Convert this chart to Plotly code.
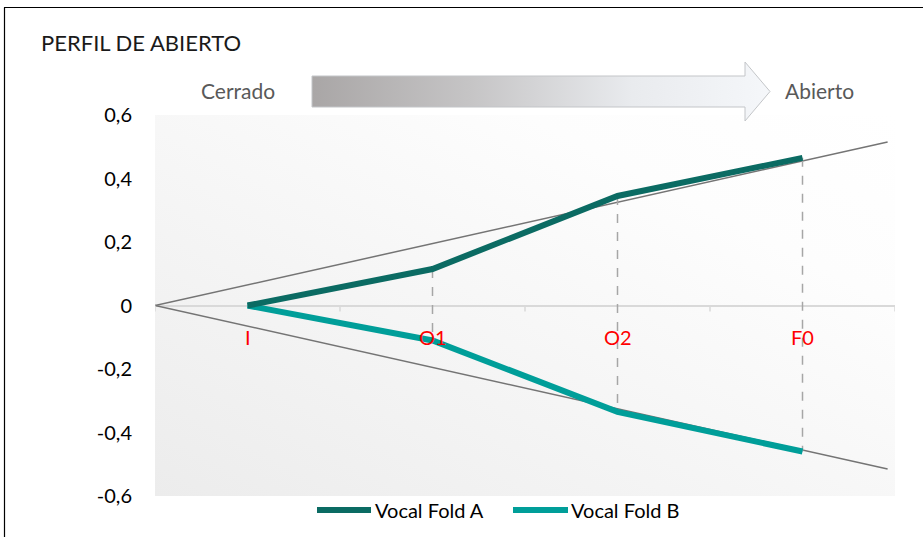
import base64
import plotly.graph_objects as go

# ---- data ----
categories = ["I", "O1", "O2", "F0"]
cat_pos = [1, 2, 3, 4]
fold_a = [0, 0.115, 0.345, 0.465]
fold_b = [0, -0.11, -0.335, -0.46]
trend_x = [0.5, 4.46]
trend_upper = [0, 0.515]
trend_lower = [0, -0.515]
y_ticks = [0.6, 0.4, 0.2, 0, -0.2, -0.4, -0.6]
y_tick_labels = ["0,6", "0,4", "0,2", "0", "-0,2", "-0,4", "-0,6"]
boundaries = [0.5, 1.5, 2.5, 3.5, 4.5]

W, H = 923, 537
L, R, T, B = 155, 28, 115, 41
PW, PH = W - L - R, H - T - B
FONT = "Lato, Carlito, sans-serif"


def px_x(p):
    return (p - L) / PW


def px_y(p):
    return (H - B - p) / PH


def svg_uri(svg):
    return "data:image/svg+xml;base64," + base64.b64encode(svg.encode()).decode()


bg_svg = (
    '<svg xmlns="http://www.w3.org/2000/svg" width="740" height="381" viewBox="0 0 740 381" preserveAspectRatio="none">'
    '<defs><linearGradient id="g" x1="0" y1="1" x2="1" y2="0">'
    '<stop offset="0" stop-color="#ececec"/><stop offset="0.75" stop-color="#fdfdfd"/><stop offset="1" stop-color="#ffffff"/>'
    '</linearGradient></defs><rect width="740" height="381" fill="url(#g)"/></svg>'
)

arrow_svg = (
    '<svg xmlns="http://www.w3.org/2000/svg" width="460" height="61" viewBox="0 0 460 61" preserveAspectRatio="none">'
    '<defs><linearGradient id="a" x1="0" y1="0" x2="1" y2="0">'
    '<stop offset="0" stop-color="#a9a6a6"/><stop offset="0.35" stop-color="#c6c5c6"/>'
    '<stop offset="0.7" stop-color="#e9ebee"/><stop offset="1" stop-color="#f5f7fa"/>'
    '</linearGradient></defs>'
    '<polygon points="1,15 434,15 434,1 459,30.5 434,60 434,46 1,46" fill="url(#a)" stroke="#c3c5c8" stroke-width="1"/>'
    '</svg>'
)

fig = go.Figure()

# trend lines
for ty in (trend_upper, trend_lower):
    fig.add_trace(go.Scatter(x=trend_x, y=ty, mode="lines",
                             line=dict(color="#747474", width=1.5),
                             hoverinfo="skip", showlegend=False))

# drop lines between series
dx, dy = [], []
for c, a, b in zip(cat_pos, fold_a, fold_b):
    if a != b:
        dx += [c, c, None]
        dy += [a, b, None]
fig.add_trace(go.Scatter(x=dx, y=dy, mode="lines",
                         line=dict(color="#a6a6a6", width=1.5, dash="dash"),
                         hoverinfo="skip", showlegend=False))

fig.add_trace(go.Scatter(x=cat_pos, y=fold_b, mode="lines", name="Vocal Fold B",
                         line=dict(color="#009e99", width=6), showlegend=False))
fig.add_trace(go.Scatter(x=cat_pos, y=fold_a, mode="lines", name="Vocal Fold A",
                         line=dict(color="#0b6b63", width=6), showlegend=False))

shapes = []
# tick marks along zero line
for bx in boundaries:
    shapes.append(dict(type="line", xref="x", yref="y", x0=bx, x1=bx,
                       ysizemode="pixel", yanchor=0, y0=0, y1=-6,
                       line=dict(color="#d9d9d9", width=1.5)))
# outer border (left, top)
shapes.append(dict(type="line", xref="paper", yref="paper", x0=px_x(4.5), x1=px_x(4.5),
                   y0=px_y(7.5), y1=px_y(H + 5), line=dict(color="#000000", width=1.2)))
shapes.append(dict(type="line", xref="paper", yref="paper", x0=px_x(4), x1=px_x(W + 5),
                   y0=px_y(7.5), y1=px_y(7.5), line=dict(color="#000000", width=1.2)))

annotations = []
for c, lab in zip(cat_pos, categories):
    annotations.append(dict(x=c, y=0, xref="x", yref="y", text=lab, showarrow=False,
                            yanchor="middle", yshift=-31,
                            font=dict(family=FONT, size=20, color="#ff0000")))

annotations.append(dict(x=px_x(39), y=px_y(42), xref="paper", yref="paper",
                        text="PERFIL DE ABIERTO", showarrow=False, xanchor="left", yanchor="middle",
                        font=dict(family=FONT, size=22, color="#1a1a1a")))
annotations.append(dict(x=px_x(277), y=px_y(91), xref="paper", yref="paper",
                        text="Cerrado", showarrow=False, xanchor="right", yanchor="middle",
                        font=dict(family=FONT, size=21, color="#595959")))
annotations.append(dict(x=px_x(783), y=px_y(91), xref="paper", yref="paper",
                        text="Abierto", showarrow=False, xanchor="left", yanchor="middle",
                        font=dict(family=FONT, size=21, color="#595959")))

# custom legend
legend_items = [("Vocal Fold A", "#0b6b63", 317, 371, 373),
                ("Vocal Fold B", "#009e99", 513, 568, 569)]
for name, col, x0, x1, tx in legend_items:
    shapes.append(dict(type="line", xref="paper", yref="paper", x0=px_x(x0), x1=px_x(x1),
                       y0=px_y(510), y1=px_y(510), line=dict(color=col, width=6)))
    annotations.append(dict(x=px_x(tx), y=px_y(510), xref="paper", yref="paper",
                            text=name, showarrow=False, xanchor="left", yanchor="middle",
                            font=dict(family=FONT, size=20, color="#000000")))

fig.update_layout(
    width=W, height=H,
    margin=dict(l=L, r=R, t=T, b=B),
    paper_bgcolor="#ffffff", plot_bgcolor="rgba(0,0,0,0)",
    showlegend=False,
    shapes=shapes, annotations=annotations,
    images=[
        dict(source=svg_uri(bg_svg), xref="paper", yref="paper", x=0, y=1,
             sizex=1, sizey=1, sizing="stretch", xanchor="left", yanchor="top", layer="below"),
        dict(source=svg_uri(arrow_svg), xref="paper", yref="paper", x=px_x(311), y=px_y(61),
             sizex=460 / PW, sizey=61 / PH, sizing="stretch", xanchor="left", yanchor="top", layer="above"),
    ],
    xaxis=dict(range=[0.5, 4.5], showgrid=False, zeroline=False, showticklabels=False,
               showline=False, ticks=""),
    yaxis=dict(range=[-0.6, 0.6], tickvals=y_ticks, ticktext=y_tick_labels,
               showgrid=False, zeroline=True, zerolinecolor="#d9d9d9", zerolinewidth=1.5,
               showline=False, ticks="", ticklabelstandoff=22,
               tickfont=dict(family=FONT, size=20, color="#000000")),
)

fig.write_html("out.html", config={"displayModeBar": False},
               post_script="document.body.style.margin='0';document.body.style.overflow='hidden';")
